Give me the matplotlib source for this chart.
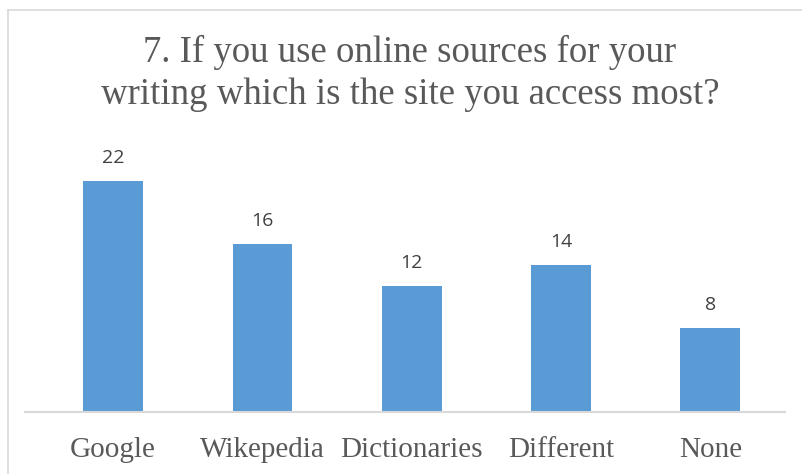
import matplotlib.pyplot as plt
from matplotlib.lines import Line2D

# data
sites = ['Google', 'Wikepedia', 'Dictionaries', 'Different', 'None']
counts = [22, 16, 12, 14, 8]

W, H = 802, 474
fig = plt.figure(figsize=(W / 100, H / 100), dpi=100)

# chart frame (left and top edges visible, rest cut off)
fig.add_artist(Line2D([8 / W, 8 / W], [0, 1 - 10 / H], transform=fig.transFigure,
                      color='#d9d9d9', lw=1.2))
fig.add_artist(Line2D([8 / W, 1], [1 - 10 / H, 1 - 10 / H], transform=fig.transFigure,
                      color='#d9d9d9', lw=1.2))

# axes placed in pixel coords: baseline at y=412, x from 25 to 785
left, right = 25, 785
bottom, top = 412, 160
ax = fig.add_axes([left / W, 1 - bottom / H, (right - left) / W, (bottom - top) / H])

x = range(len(sites))
bars = ax.bar(x, counts, width=0.4, color='#5b9bd5')
ax.set_xlim(-0.59, 4.5)
ax.set_ylim(0, 24)

for b, v in zip(bars, counts):
    ax.text(b.get_x() + b.get_width() / 2, v + 1.3, str(v), ha='center', va='bottom',
            fontsize=14, color='#404040', family='Open Sans')

for s in ['top', 'right', 'left']:
    ax.spines[s].set_visible(False)
ax.spines['bottom'].set_color('#d9d9d9')
ax.spines['bottom'].set_linewidth(1.5)
ax.set_yticks([])
ax.set_xticks(list(x))
ax.set_xticklabels(sites, family='Liberation Serif', fontsize=21, color='#595959')
ax.tick_params(axis='x', length=0, pad=18)

cx = 410 / W
fig.text(cx, 1 - 52 / H, '7. If you use online sources for your',
         ha='center', va='center', family='Liberation Serif', fontsize=26.5, color='#595959')
fig.text(cx, 1 - 95 / H, 'writing which is the site you access most?',
         ha='center', va='center', family='Liberation Serif', fontsize=26.5, color='#595959')

fig.savefig('out.png', dpi=100)
